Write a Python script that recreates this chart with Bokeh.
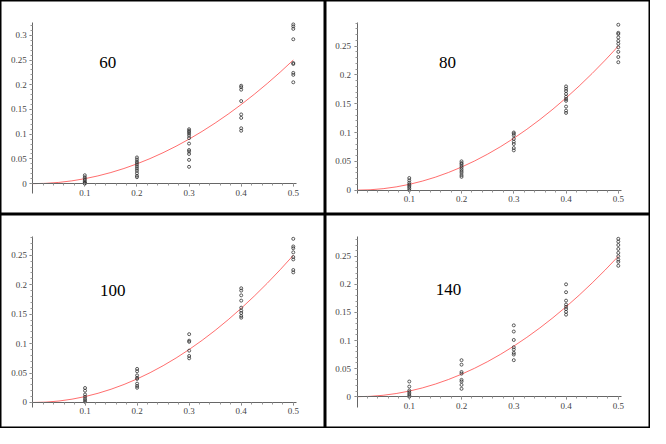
from bokeh.plotting import figure
from bokeh.layouts import gridplot
from bokeh.models import Range1d, FixedTicker, CustomJSTickFormatter
from bokeh.core.properties import value
from bokeh.embed import file_html
from bokeh.resources import INLINE

# ---- data ----
x_levels = [0.1, 0.2, 0.3, 0.4, 0.5]

# model curve, points
curve_x = [0.0, 0.025, 0.05, 0.075, 0.1, 0.125, 0.15, 0.175, 0.2, 0.225, 0.25,
           0.275, 0.3, 0.325, 0.35, 0.375, 0.4, 0.425, 0.45, 0.475, 0.5]
curve_y = [0.0, 0.000625, 0.0025, 0.005625, 0.01, 0.015625, 0.0225, 0.030625, 0.04,
           0.050625, 0.0625, 0.075625, 0.09, 0.105625, 0.1225, 0.140625, 0.16,
           0.180625, 0.2025, 0.225625, 0.25]

# observations per x level for each panel
obs_60 = [
    [0.017, 0.013, 0.010, 0.007, 0.004, 0.002, 0.001, 0.0],
    [0.053, 0.049, 0.045, 0.042, 0.038, 0.034, 0.030, 0.026, 0.021, 0.016, 0.013],
    [0.110, 0.107, 0.104, 0.101, 0.097, 0.092, 0.081, 0.068, 0.065, 0.060, 0.048, 0.034],
    [0.198, 0.195, 0.190, 0.167, 0.140, 0.133, 0.112, 0.107],
    [0.322, 0.318, 0.313, 0.292, 0.244, 0.242, 0.224, 0.220, 0.205],
]
obs_80 = [
    [0.021, 0.017, 0.013, 0.010, 0.008, 0.0056, 0.003, 0.0],
    [0.050, 0.047, 0.045, 0.042, 0.039, 0.036, 0.033, 0.030, 0.026, 0.023],
    [0.100, 0.098, 0.095, 0.089, 0.084, 0.080, 0.073, 0.069],
    [0.180, 0.176, 0.172, 0.167, 0.162, 0.158, 0.155, 0.145, 0.138, 0.134],
    [0.287, 0.273, 0.271, 0.265, 0.259, 0.254, 0.248, 0.240, 0.231, 0.222],
]
obs_100 = [
    [0.0246, 0.020, 0.0136, 0.0098, 0.0066, 0.0038, 0.001],
    [0.057, 0.053, 0.046, 0.042, 0.040, 0.032, 0.028, 0.025],
    [0.116, 0.105, 0.103, 0.088, 0.079, 0.075],
    [0.194, 0.190, 0.182, 0.173, 0.161, 0.156, 0.152, 0.147, 0.144],
    [0.278, 0.265, 0.262, 0.255, 0.247, 0.243, 0.225, 0.221],
]
obs_140 = [
    [0.027, 0.018, 0.011, 0.008, 0.005, 0.002, 0.0],
    [0.065, 0.057, 0.044, 0.041, 0.030, 0.027, 0.021, 0.014],
    [0.127, 0.116, 0.101, 0.088, 0.084, 0.078, 0.075, 0.065],
    [0.200, 0.186, 0.171, 0.164, 0.160, 0.156, 0.151, 0.146],
    [0.281, 0.276, 0.270, 0.263, 0.256, 0.250, 0.244, 0.240, 0.233],
]
panel_labels = ["60", "80", "100", "140"]

x_ticks = [0.1, 0.2, 0.3, 0.4, 0.5]
y_ticks_60 = [0.0, 0.05, 0.1, 0.15, 0.2, 0.25, 0.3]
y_ticks = [0.0, 0.05, 0.1, 0.15, 0.2, 0.25]

# ---- layout / style (not data) ----
W, H = 325, 214
SERIF = "Liberation Serif"
panels = [
    dict(obs=obs_60, label=panel_labels[0], yt=y_ticks_60, xr=(-0.0618, 0.5618), yr=(-0.0624, 0.3704),
         yb=(-0.0195, 0.326), lab=(0.144, 0.245)),
    dict(obs=obs_80, label=panel_labels[1], yt=y_ticks, xr=(-0.0603, 0.5616), yr=(-0.0423, 0.3291),
         yb=(-0.0055, 0.291), lab=(0.173, 0.222)),
    dict(obs=obs_100, label=panel_labels[2], yt=y_ticks, xr=(-0.0624, 0.5619), yr=(-0.0442, 0.3193),
         yb=(-0.0082, 0.282), lab=(0.153, 0.191)),
    dict(obs=obs_140, label=panel_labels[3], yt=y_ticks, xr=(-0.0603, 0.5616), yr=(-0.0566, 0.3243),
         yb=(-0.0189, 0.2853), lab=(0.175, 0.190)),
]

fmt = CustomJSTickFormatter(code="return String(Math.round(tick*1000)/1000);")


def make_panel(cfg):
    p = figure(width=W, height=H, output_backend="svg", toolbar_location=None,
               x_range=Range1d(*cfg["xr"]), y_range=Range1d(*cfg["yr"]),
               min_border=0, background_fill_color="white", border_fill_color="white",
               outline_line_color="black", outline_line_width=2)
    p.grid.visible = False
    # axes crossing at the origin
    for ax in (p.xaxis[0], p.yaxis[0]):
        ax.fixed_location = 0
        ax.axis_line_color = "#666666"
        ax.axis_line_width = 1
        ax.major_tick_line_color = "#777777"
        ax.minor_tick_line_color = "#999999"
        ax.major_tick_in = 0
        ax.major_tick_out = 3
        ax.minor_tick_in = 0
        ax.minor_tick_out = 2
        ax.major_label_text_font = SERIF
        ax.major_label_text_font_size = "9px"
        ax.major_label_text_color = "#444444"
        ax.major_label_standoff = 3
        ax.formatter = fmt
    xmin = [round(0.02 * i, 2) for i in range(1, 26)]
    p.xaxis[0].ticker = FixedTicker(ticks=x_ticks, minor_ticks=xmin)
    p.xaxis[0].bounds = (0, 0.506)
    lo, hi = cfg["yb"]
    ymin = [round(0.01 * i, 2) for i in range(0, 33) if 0.01 * i <= hi]
    p.yaxis[0].ticker = FixedTicker(ticks=cfg["yt"], minor_ticks=ymin)
    p.yaxis[0].bounds = cfg["yb"]

    p.line(curve_x, curve_y, line_color="#ff3030", line_width=1, line_alpha=0.7)

    xs, ys = [], []
    for xv, col in zip(x_levels, cfg["obs"]):
        xs.extend([xv] * len(col))
        ys.extend(col)
    p.scatter(xs, ys, marker="circle", size=3, fill_color=None,
              line_color="#333333", line_width=0.8)

    p.text(x=[cfg["lab"][0]], y=[cfg["lab"][1]], text=[cfg["label"]],
           text_font=value(SERIF), text_font_size="17px", text_color="black",
           text_align="center", text_baseline="middle")
    return p


figs = [make_panel(c) for c in panels]
grid = gridplot([[figs[0], figs[1]], [figs[2], figs[3]]], toolbar_location=None)

open("out.html", "w").write(file_html(grid, INLINE))
